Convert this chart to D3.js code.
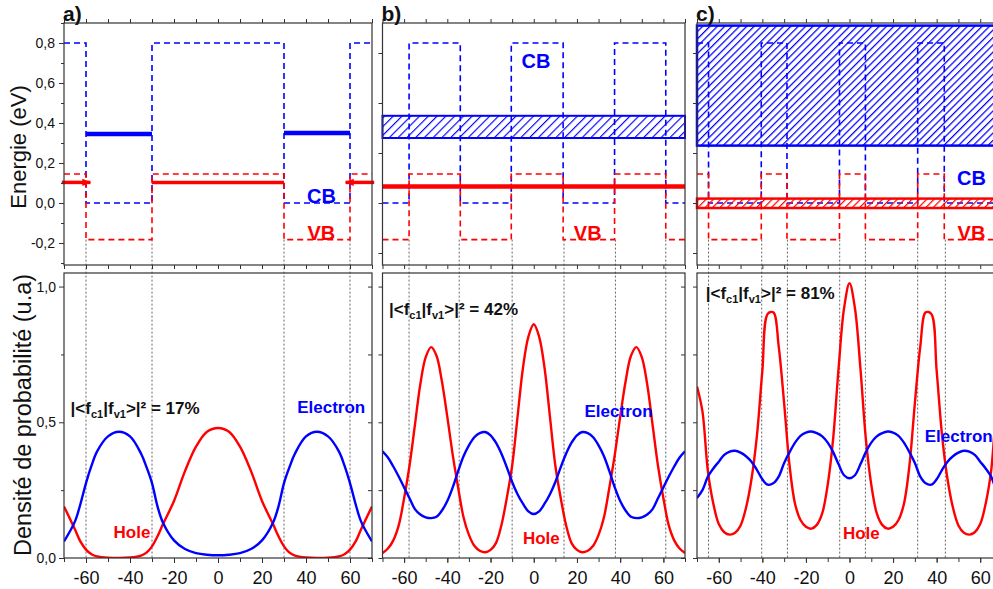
<!DOCTYPE html>
<html><head><meta charset="utf-8">
<script src="https://cdn.jsdelivr.net/npm/d3@7"></script>
<style>
body{margin:0;background:#fff}
svg{display:block}
text{font-family:"Liberation Sans",Arial,Helvetica,sans-serif}
</style>
</head><body>
<svg id="chart" width="993" height="589"></svg>
<script>
// ---------------- DATA ----------------
const panelLabels = ["a)", "b)", "c)"];
const xTicks10 = [-70,-60,-50,-40,-30,-20,-10,0,10,20,30,40,50,60,70];
const xLabelTicks = [-60,-40,-20,0,20,40,60];
const energyTickLabels = [-0.2, 0, 0.2, 0.4, 0.6, 0.8];
const energyMinorTicks = [-0.3, -0.1, 0.1, 0.3, 0.5, 0.7, 0.9];
const energyTicksBC = [-0.25, 0, 0.25, 0.5, 0.75];
const densityTickLabels = [0, 0.5, 1.0];
const densityMinorTicks = [0.25, 0.75];
const densityTicksAll = [0, 0.25, 0.5, 0.75, 1.0];

// band-edge profiles (step functions)
const aEdges = [-70, -60, -30, 30, 60, 70];
const aCB = [0.8, 0, 0.8, 0, 0.8];
const aVB = [0.145, -0.183, 0.145, -0.183, 0.145];
const bEdges = [-70, -57.7, -34.0, -10.4, 13.6, 37.4, 61.1, 70];
const bCB = [0, 0.8, 0, 0.8, 0, 0.8, 0];
const bVB = [-0.183, 0.145, -0.183, 0.145, -0.183, 0.145, -0.183];
const cEdges = [-70, -64.7, -40.5, -28.7, -4.6, 7.3, 31.3, 43.5, 70];
const cCB = [0.8, 0, 0.8, 0, 0.8, 0, 0.8, 0];
const cVB = [0.145, -0.183, 0.145, -0.183, 0.145, -0.183, 0.145, -0.183];

// interfaces (dotted guides)
const aInterfaces = [-60, -30, 30, 60];
const bInterfaces = [-57.7, -34.5, -10, 14, 37.8, 61.1];
const cInterfaces = [-64.7, -40.3, -28.5, -4.5, 7.3, 31.3, 44];

// confined levels
const aElectronLevels = [[-60, -30, 0.345], [30, 60, 0.35]];
const aHoleLevels = [[-71, -58, 0.103], [-30, 30, 0.103], [71, 58, 0.103]];
const bElectronBand = [0.325, 0.436];
const bHoleLevel = 0.083;
const cElectronBand = [0.287, 0.887];
const cHoleBand = [-0.025, 0.022];

// overlaps
const overlapLabels = ["17%", "42%", "81%"];

// probability densities
const aX = [-70,-65,-62.5,-60,-57.5,-55,-50,-45,-40,-35,-32.5,-30,-27.5,-25,-20,-15,-10,-5,0,5,10,15,20,25,27.5,30,32.5,35,40,45,50,55,57.5,60,62.5,65,70];
const aElectron = [0.061,0.135,0.2,0.276,0.34,0.392,0.448,0.465,0.448,0.385,0.335,0.276,0.19,0.13,0.065,0.033,0.018,0.012,0.010,
  0.012,0.018,0.033,0.065,0.13,0.19,0.276,0.335,0.385,0.448,0.465,0.448,0.392,0.34,0.276,0.2,0.135,0.061];
const aHole = [0.19,0.105,0.06,0.031,0.014,0.006,0.001,0.0,0.002,0.009,0.02,0.043,0.08,0.125,0.21,0.32,0.41,0.465,0.479,
  0.465,0.41,0.32,0.21,0.125,0.08,0.043,0.02,0.009,0.002,0.0,0.001,0.006,0.014,0.031,0.06,0.105,0.19];

const bcX = [-70,-67.5,-65,-62.5,-60,-57.5,-55,-52.5,-50,-47.5,-45,-42.5,-40,-37.5,-35,-32.5,-30,-27.5,-25,-22.5,-20,-17.5,-15,-12.5,-10,-7.5,-5,-2.5,0,
  2.5,5,7.5,10,12.5,15,17.5,20,22.5,25,27.5,30,32.5,35,37.5,40,42.5,45,47.5,50,52.5,55,57.5,60,62.5,65,67.5,70];
const bHole = [0.018,0.035,0.065,0.12,0.22,0.34,0.49,0.64,0.74,0.777,0.745,0.65,0.52,0.38,0.26,0.15,0.085,0.045,0.027,0.021,0.03,0.055,0.12,0.22,0.34,0.52,0.70,0.815,0.861,
  0.815,0.70,0.52,0.34,0.22,0.12,0.055,0.03,0.021,0.027,0.045,0.085,0.15,0.26,0.38,0.52,0.65,0.745,0.777,0.74,0.64,0.49,0.34,0.22,0.12,0.065,0.035,0.018];
const bElectron = [0.393,0.37,0.337,0.30,0.26,0.22,0.18,0.16,0.15,0.147,0.152,0.175,0.21,0.26,0.32,0.375,0.415,0.445,0.46,0.464,0.452,0.425,0.385,0.335,0.28,0.235,0.2,0.172,0.162,
  0.172,0.2,0.235,0.28,0.335,0.385,0.425,0.452,0.464,0.46,0.445,0.415,0.375,0.32,0.26,0.21,0.175,0.152,0.147,0.15,0.16,0.18,0.22,0.26,0.30,0.337,0.37,0.393];
const cHole = [0.632,0.54,0.32,0.2,0.125,0.095,0.086,0.093,0.12,0.185,0.29,0.45,0.69,0.9,0.905,0.78,0.57,0.34,0.2,0.14,0.115,0.108,0.122,0.165,0.27,0.44,0.70,0.92,1.012,
  0.92,0.70,0.44,0.27,0.165,0.122,0.108,0.115,0.14,0.2,0.34,0.57,0.78,0.905,0.9,0.69,0.45,0.29,0.185,0.12,0.093,0.086,0.095,0.125,0.2,0.32,0.54,0.632];
const cElectron = [0.221,0.25,0.30,0.33,0.355,0.38,0.392,0.395,0.388,0.375,0.355,0.325,0.29,0.27,0.275,0.30,0.35,0.39,0.425,0.45,0.462,0.466,0.46,0.448,0.425,0.39,0.345,0.305,0.294,
  0.305,0.345,0.39,0.425,0.448,0.46,0.466,0.462,0.45,0.425,0.39,0.35,0.30,0.275,0.27,0.29,0.325,0.355,0.375,0.388,0.395,0.392,0.38,0.355,0.33,0.30,0.25,0.221];

// ---------------- LAYOUT ----------------
const BLUE = "#0000ff", RED = "#ff0000", FRAME = "#333", GRID = "#555";
const svg = d3.select("#chart");
svg.append("rect").attr("width", 993).attr("height", 589).attr("fill", "#fff");

const topY = d3.scaleLinear().domain([-0.31, 0.9]).range([265, 23]);
const botY = d3.scaleLinear().domain([0, 1.05]).range([558, 273]);
const panelRanges = [[64, 372], [382.5, 685], [697, 1002]];
const xs = panelRanges.map(r => d3.scaleLinear().domain([-70, 70]).range(r));

const defs = svg.append("defs");
function hatch(id, color, size, w) {
  const p = defs.append("pattern").attr("id", id).attr("patternUnits", "userSpaceOnUse")
    .attr("width", size).attr("height", size).attr("patternTransform", "rotate(45)");
  p.append("line").attr("x1", 0).attr("y1", 0).attr("x2", 0).attr("y2", size)
    .attr("stroke", color).attr("stroke-width", w);
}
hatch("hatchBlueB", BLUE, 6.2, 2.3);
hatch("hatchBlueC", BLUE, 5.2, 2.5);
hatch("hatchRedC", RED, 5.2, 2.4);
defs.append("marker").attr("id", "arrowRed").attr("markerUnits", "userSpaceOnUse")
  .attr("viewBox", "0 -5 10 10").attr("refX", 9).attr("refY", 0)
  .attr("markerWidth", 9).attr("markerHeight", 9).attr("orient", "auto")
  .append("path").attr("d", "M0,-4L10,0L0,4Z").attr("fill", RED);

xs.forEach((x, i) => {
  defs.append("clipPath").attr("id", "clipTop" + i).append("rect")
    .attr("x", x.range()[0]).attr("y", topY.range()[1])
    .attr("width", x.range()[1] - x.range()[0]).attr("height", topY.range()[0] - topY.range()[1]);
  defs.append("clipPath").attr("id", "clipBot" + i).append("rect")
    .attr("x", x.range()[0]).attr("y", botY.range()[1])
    .attr("width", x.range()[1] - x.range()[0]).attr("height", botY.range()[0] - botY.range()[1]);
});

function styleAxis(g, fs) {
  g.select(".domain").remove();
  g.selectAll(".tick line").attr("stroke", FRAME).attr("stroke-width", 1);
  g.selectAll(".tick text").attr("fill", "#111").style("font-size", fs + "px")
    .style("font-family", '"Liberation Sans",Arial,sans-serif');
}
const commaFmt = d => d.toFixed(1).replace(".", ",");

// ---------------- TOP PANELS ----------------
const profiles = [
  {edges: aEdges, cb: aCB, vb: aVB},
  {edges: bEdges, cb: bCB, vb: bVB},
  {edges: cEdges, cb: cCB, vb: cVB}
];
const interfaces = [aInterfaces, bInterfaces, cInterfaces];

const stepLine = (x) => d3.line().x(d => x(d[0])).y(d => topY(d[1])).curve(d3.curveStepAfter);
function stepPoints(edges, vals) {
  const pts = vals.map((v, k) => [edges[k], v]);
  pts.push([edges[edges.length - 1], vals[vals.length - 1]]);
  return pts;
}

// dotted interface guides (behind)
xs.forEach((x, i) => {
  svg.append("g").selectAll("line").data(interfaces[i]).join("line")
    .attr("x1", d => x(d)).attr("x2", d => x(d))
    .attr("y1", topY(-0.183)).attr("y2", botY(0))
    .attr("stroke", GRID).attr("stroke-width", 0.9).attr("stroke-dasharray", "2,2");
});

xs.forEach((x, i) => {
  const g = svg.append("g").attr("clip-path", `url(#clipTop${i})`);
  const p = profiles[i];
  g.append("path").datum(stepPoints(p.edges, p.cb)).attr("d", stepLine(x))
    .attr("fill", "none").attr("stroke", BLUE).attr("stroke-width", 1.6).attr("stroke-dasharray", "6,4");
  g.append("path").datum(stepPoints(p.edges, p.vb)).attr("d", stepLine(x))
    .attr("fill", "none").attr("stroke", RED).attr("stroke-width", 1.6).attr("stroke-dasharray", "6,4");
});

// panel a levels
{
  const x = xs[0];
  svg.append("g").selectAll("line").data(aElectronLevels).join("line")
    .attr("x1", d => x(d[0])).attr("x2", d => x(d[1]))
    .attr("y1", d => topY(d[2])).attr("y2", d => topY(d[2]))
    .attr("stroke", BLUE).attr("stroke-width", 4.5);
  svg.append("g").selectAll("line").data(aHoleLevels).join("line")
    .attr("x1", d => x(d[0])).attr("x2", d => x(d[1]))
    .attr("y1", d => topY(d[2])).attr("y2", d => topY(d[2]))
    .attr("stroke", RED).attr("stroke-width", 3.5)
    .attr("marker-end", (d, k) => (k === 1 ? null : "url(#arrowRed)"));
}
// panel b
{
  const x = xs[1];
  svg.append("rect").attr("x", x(-70)).attr("width", x(70) - x(-70))
    .attr("y", topY(bElectronBand[1])).attr("height", topY(bElectronBand[0]) - topY(bElectronBand[1]))
    .attr("fill", "url(#hatchBlueB)").attr("stroke", BLUE).attr("stroke-width", 2);
  svg.append("line").attr("x1", x(-70)).attr("x2", x(70))
    .attr("y1", topY(bHoleLevel)).attr("y2", topY(bHoleLevel))
    .attr("stroke", RED).attr("stroke-width", 4.5);
}
// panel c
{
  const x = xs[2];
  svg.append("rect").attr("x", x(-70)).attr("width", x(70) - x(-70))
    .attr("y", topY(cElectronBand[1])).attr("height", topY(cElectronBand[0]) - topY(cElectronBand[1]))
    .attr("fill", "url(#hatchBlueC)").attr("stroke", BLUE).attr("stroke-width", 2.5);
  svg.append("rect").attr("x", x(-70)).attr("width", x(70) - x(-70))
    .attr("y", topY(cHoleBand[1])).attr("height", topY(cHoleBand[0]) - topY(cHoleBand[1]))
    .attr("fill", "url(#hatchRedC)").attr("stroke", RED).attr("stroke-width", 2.5);
}

// CB / VB labels
const cbvb = [
  {t: "CB", c: BLUE, p: 0, x: 47, y: 0.0},
  {t: "VB", c: RED, p: 0, x: 47, y: -0.183},
  {t: "CB", c: BLUE, p: 1, x: 1, y: 0.675},
  {t: "VB", c: RED, p: 1, x: 25, y: -0.183},
  {t: "CB", c: BLUE, p: 2, x: 56, y: 0.09},
  {t: "VB", c: RED, p: 2, x: 56, y: -0.183}
];
svg.append("g").selectAll("text").data(cbvb).join("text")
  .attr("x", d => xs[d.p](d.x)).attr("y", d => topY(d.y))
  .attr("text-anchor", "middle").attr("fill", d => d.c)
  .style("font-size", "20px").style("font-weight", "bold").text(d => d.t);

// frames + axes top
xs.forEach((x, i) => {
  const [x0, x1] = x.range();
  svg.append("rect").attr("x", x0).attr("y", topY.range()[1]).attr("width", x1 - x0)
    .attr("height", topY.range()[0] - topY.range()[1]).attr("fill", "none")
    .attr("stroke", FRAME).attr("stroke-width", 1.2);
  const gt = svg.append("g").attr("transform", `translate(0,${topY.range()[1]})`)
    .call(d3.axisTop(x).tickValues(xTicks10).tickSize(4).tickFormat(""));
  styleAxis(gt, 12);
  const gb = svg.append("g").attr("transform", `translate(0,${topY.range()[0]})`)
    .call(d3.axisBottom(x).tickValues(xTicks10).tickSize(4).tickFormat(""));
  styleAxis(gb, 12);
  if (i === 0) {
    const gl = svg.append("g").attr("transform", `translate(${x0},0)`)
      .call(d3.axisLeft(topY).tickValues(energyTickLabels).tickSize(5).tickPadding(4).tickFormat(commaFmt));
    styleAxis(gl, 14);
    const gm = svg.append("g").attr("transform", `translate(${x0},0)`)
      .call(d3.axisLeft(topY).tickValues(energyMinorTicks).tickSize(3).tickFormat(""));
    styleAxis(gm, 12);
  } else {
    const gl = svg.append("g").attr("transform", `translate(${x0},0)`)
      .call(d3.axisLeft(topY).tickValues(energyTicksBC).tickSize(4).tickFormat(""));
    styleAxis(gl, 12);
  }
  svg.append("text").attr("x", x0 - 1).attr("y", 21).style("font-size", "21px")
    .style("font-weight", "bold").attr("fill", "#111").text(panelLabels[i]);
});

// ---------------- BOTTOM PANELS ----------------
const densities = [
  {x: aX, e: aElectron, h: aHole},
  {x: bcX, e: bElectron, h: bHole},
  {x: bcX, e: cElectron, h: cHole}
];
xs.forEach((x, i) => {
  const d = densities[i];
  const line = d3.line().x(p => x(p[0])).y(p => botY(p[1])).curve(d3.curveCatmullRom.alpha(0.5));
  const g = svg.append("g").attr("clip-path", `url(#clipBot${i})`);
  g.append("path").datum(d.x.map((v, k) => [v, d.h[k]])).attr("d", line)
    .attr("fill", "none").attr("stroke", RED).attr("stroke-width", 2.4);
  g.append("path").datum(d.x.map((v, k) => [v, d.e[k]])).attr("d", line)
    .attr("fill", "none").attr("stroke", BLUE).attr("stroke-width", 2.4);

  const [x0, x1] = x.range();
  svg.append("rect").attr("x", x0).attr("y", botY.range()[1]).attr("width", x1 - x0)
    .attr("height", botY.range()[0] - botY.range()[1]).attr("fill", "none")
    .attr("stroke", FRAME).attr("stroke-width", 1.2);
  const gb = svg.append("g").attr("transform", `translate(0,${botY.range()[0]})`)
    .call(d3.axisBottom(x).tickValues(xLabelTicks).tickSize(5).tickPadding(8).tickFormat(v => String(v)));
  styleAxis(gb, 18);
  const gbm = svg.append("g").attr("transform", `translate(0,${botY.range()[0]})`)
    .call(d3.axisBottom(x).tickValues(xTicks10).tickSize(4).tickFormat(""));
  styleAxis(gbm, 12);
  if (i === 0) {
    const gl = svg.append("g").attr("transform", `translate(${x0},0)`)
      .call(d3.axisLeft(botY).tickValues(densityTickLabels).tickSize(5).tickPadding(3).tickFormat(commaFmt));
    styleAxis(gl, 14);
    const gm = svg.append("g").attr("transform", `translate(${x0},0)`)
      .call(d3.axisLeft(botY).tickValues(densityMinorTicks).tickSize(3).tickFormat(""));
    styleAxis(gm, 12);
  } else {
    const gl = svg.append("g").attr("transform", `translate(${x0},0)`)
      .call(d3.axisLeft(botY).tickValues(densityTicksAll).tickSize(4).tickFormat(""));
    styleAxis(gl, 12);
  }
  const gr = svg.append("g").attr("transform", `translate(${x1},0)`)
    .call(d3.axisLeft(botY).tickValues(densityTicksAll).tickSize(4).tickFormat(""));
  styleAxis(gr, 12);
});

// annotations
const overlapPos = [{p: 0, x: -67, y: 0.53}, {p: 1, x: -67, y: 0.895}, {p: 2, x: -66, y: 0.955}];
overlapPos.forEach((o, k) => {
  const t = svg.append("text").attr("x", xs[o.p](o.x)).attr("y", botY(o.y))
    .style("font-size", "17px").style("font-weight", "bold").attr("fill", "#111");
  t.append("tspan").text("|<f");
  t.append("tspan").attr("dy", 4).style("font-size", "11px").text("c1");
  t.append("tspan").attr("dy", -4).text("|f");
  t.append("tspan").attr("dy", 4).style("font-size", "11px").text("v1");
  t.append("tspan").attr("dy", -4).text(">|\u00b2 = " + overlapLabels[k]);
});
const curveLabels = [
  {t: "Electron", c: BLUE, p: 0, x: 36, y: 0.535},
  {t: "Hole", c: RED, p: 0, x: -47.5, y: 0.075},
  {t: "Electron", c: BLUE, p: 1, x: 23.5, y: 0.52},
  {t: "Hole", c: RED, p: 1, x: -5, y: 0.052},
  {t: "Electron", c: BLUE, p: 2, x: 34.5, y: 0.427},
  {t: "Hole", c: RED, p: 2, x: -3, y: 0.07}
];
svg.append("g").selectAll("text").data(curveLabels).join("text")
  .attr("x", d => xs[d.p](d.x)).attr("y", d => botY(d.y)).attr("fill", d => d.c)
  .style("font-size", "17px").style("font-weight", "bold").text(d => d.t);

// axis titles
svg.append("text").attr("transform", "translate(26,147) rotate(-90)").attr("text-anchor", "middle")
  .style("font-size", "22px").attr("fill", "#111").text("Energie (eV)");
svg.append("text").attr("transform", "translate(31,415) rotate(-90)").attr("text-anchor", "middle")
  .style("font-size", "23.5px").attr("fill", "#111").text("Densité de probabilité (u.a)");
</script>
</body></html>
